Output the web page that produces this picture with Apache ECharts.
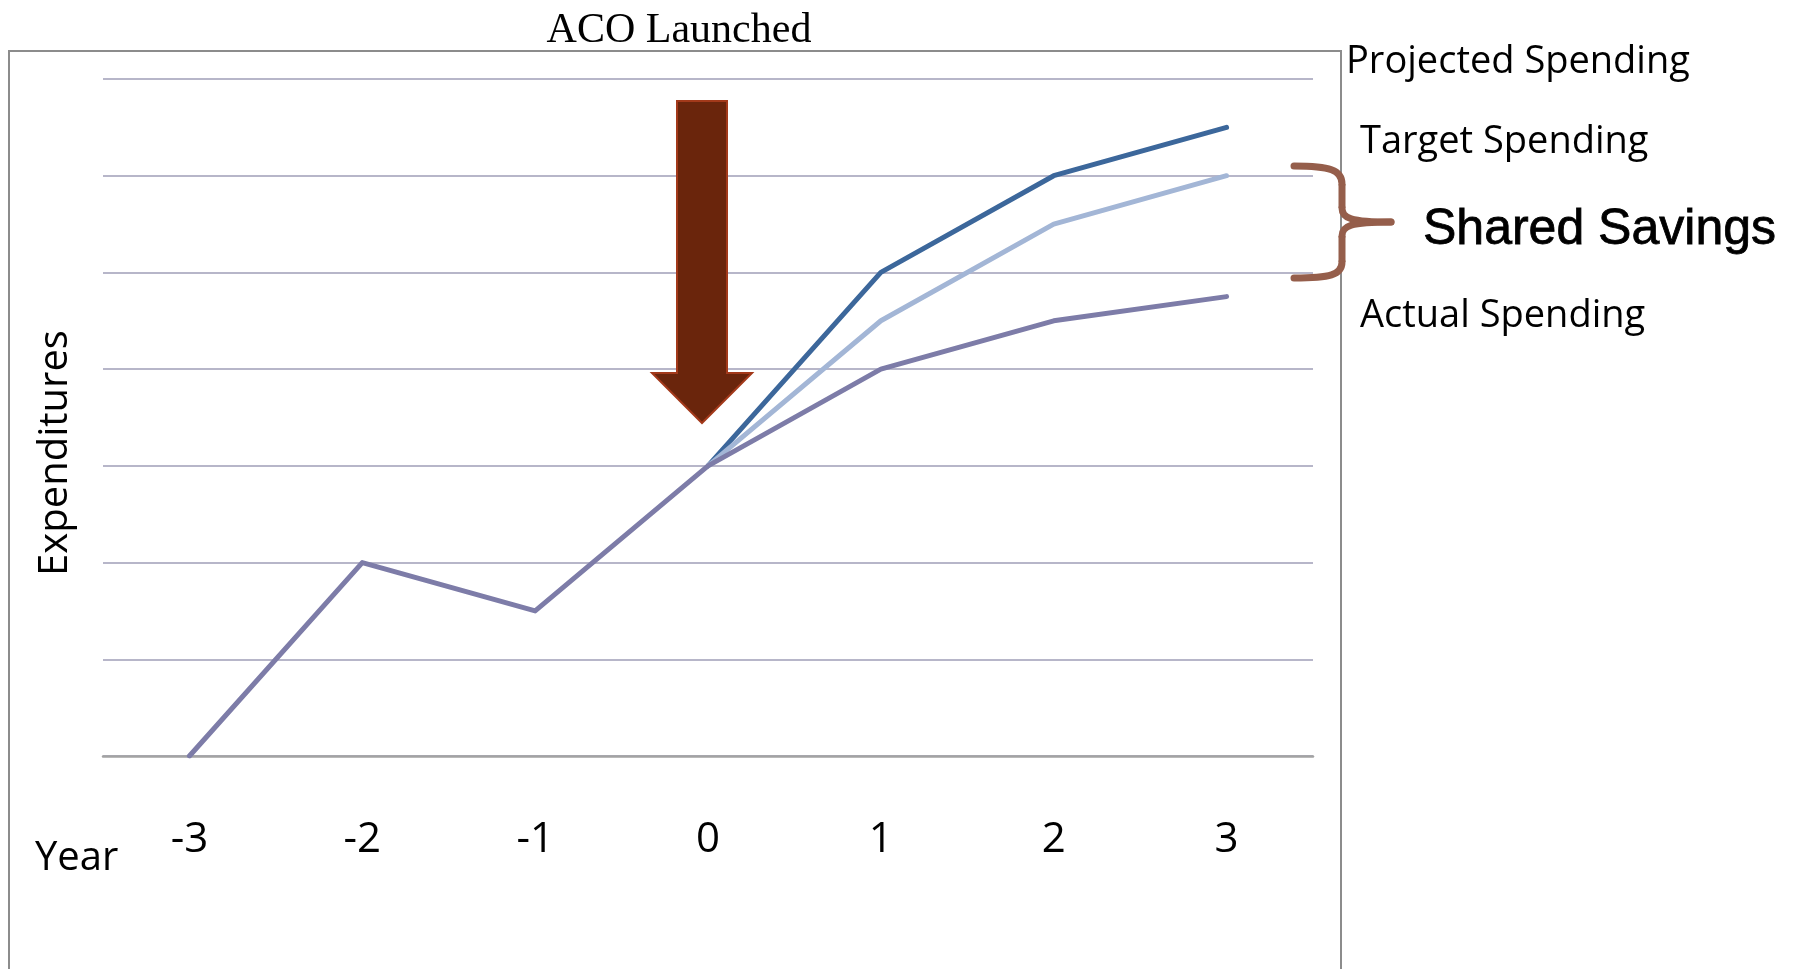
<!DOCTYPE html>
<html>
<head>
<meta charset="utf-8">
<title>ACO Launched</title>
<script src="https://cdn.jsdelivr.net/npm/echarts@6/dist/echarts.min.js"></script>
<style>
  html, body { margin: 0; padding: 0; background: #ffffff; }
  #chart { width: 1794px; height: 969px; }
</style>
</head>
<body>
<div id="chart"></div>
<script>
// Years relative to ACO launch
const years = ['-3', '-2', '-1', '0', '1', '2', '3'];

// Spending paths (relative expenditure units)
const projectedSpending = [null, null, null, 3, 5, 6, 6.5];
const targetSpending    = [null, null, null, 3, 4.5, 5.5, 6];
const actualSpending    = [0, 2, 1.5, 3, 4, 4.5, 4.75];

// Value axis range
const yMin = 0;
const yMax = 7;
const yStep = 1;

const chart = echarts.init(document.getElementById('chart'), null, { renderer: 'canvas' });

const sans = '"Open Sans", "Noto Sans", sans-serif';

function lineSeries(name, data, color) {
  return {
    name: name,
    type: 'line',
    data: data,
    symbol: 'none',
    connectNulls: false,
    lineStyle: { color: color, width: 5, cap: 'round', join: 'round' },
    itemStyle: { color: color },
    emphasis: { disabled: true },
    animation: false
  };
}

const braceColor = '#955E4B';
function braceCurve(x1, y1, cpx1, cpy1, cpx2, cpy2, x2, y2) {
  return {
    type: 'bezierCurve', z: 10,
    shape: { x1: x1, y1: y1, cpx1: cpx1, cpy1: cpy1, cpx2: cpx2, cpy2: cpy2, x2: x2, y2: y2 },
    style: { fill: null, stroke: braceColor, lineWidth: 7, lineCap: 'round' }
  };
}
function braceLine(x1, y1, x2, y2) {
  return {
    type: 'line', z: 10,
    shape: { x1: x1, y1: y1, x2: x2, y2: y2 },
    style: { stroke: braceColor, lineWidth: 7 }
  };
}

chart.setOption({
  backgroundColor: '#ffffff',
  animation: false,
  grid: { left: 103, right: 481, top: 79, bottom: 213, containLabel: false },
  xAxis: {
    type: 'category',
    data: years,
    boundaryGap: true,
    axisLine: { show: true, lineStyle: { color: '#A3A3A3', width: 2.5 } },
    axisTick: { show: false },
    axisLabel: {
      margin: 63,
      color: '#000000',
      fontFamily: sans,
      fontSize: 42
    },
    splitLine: { show: false }
  },
  yAxis: {
    type: 'value',
    min: yMin,
    max: yMax,
    interval: yStep,
    axisLine: { show: false },
    axisTick: { show: false },
    axisLabel: { show: false },
    splitLine: { show: true, lineStyle: { color: '#B7B6C9', width: 2 } }
  },
  series: [
    lineSeries('Projected Spending', projectedSpending, '#3C679B'),
    lineSeries('Target Spending', targetSpending, '#A3B6D6'),
    lineSeries('Actual Spending', actualSpending, '#7D7CA8')
  ],
  graphic: [
    // outer frame
    {
      type: 'rect', z: 0,
      shape: { x: 9, y: 51, width: 1332, height: 1000 },
      style: { fill: null, stroke: '#8C8C8C', lineWidth: 2 }
    },
    // title above the frame
    {
      type: 'text', z: 10, x: 679, y: 31,
      style: {
        text: 'ACO Launched', fill: '#000000',
        font: '42px "Liberation Serif", "DejaVu Serif", serif',
        align: 'center', verticalAlign: 'middle'
      }
    },
    // launch arrow
    {
      type: 'polygon', z: 10,
      shape: { points: [[677, 101], [727, 101], [727, 373], [752, 373], [702, 423], [652, 373], [677, 373]] },
      style: { fill: '#6A250C', stroke: '#A3391A', lineWidth: 2 }
    },
    // y-axis caption
    {
      type: 'text', z: 10, x: 56, y: 453, rotation: Math.PI / 2,
      style: {
        text: 'Expenditures', fill: '#000000',
        font: '40px ' + sans,
        align: 'center', verticalAlign: 'middle'
      }
    },
    // x-axis caption
    {
      type: 'text', z: 10, x: 35, y: 859,
      style: {
        text: 'Year', fill: '#000000',
        font: '40px ' + sans,
        align: 'left', verticalAlign: 'middle'
      }
    },
    // series captions on the right
    {
      type: 'text', z: 10, x: 1346, y: 62,
      style: { text: 'Projected Spending', fill: '#000000', font: '38px ' + sans, align: 'left', verticalAlign: 'middle' }
    },
    {
      type: 'text', z: 10, x: 1360, y: 142,
      style: { text: 'Target Spending', fill: '#000000', font: '38px ' + sans, align: 'left', verticalAlign: 'middle' }
    },
    {
      type: 'text', z: 10, x: 1360, y: 316,
      style: { text: 'Actual Spending', fill: '#000000', font: '38px ' + sans, align: 'left', verticalAlign: 'middle' }
    },
    // brace spanning the savings gap
    braceCurve(1294, 166, 1330, 166, 1342, 170, 1342, 184),
    braceLine(1342, 184, 1342, 208),
    braceCurve(1342, 208, 1342, 218, 1350, 222, 1391, 222),
    braceCurve(1391, 222, 1350, 222, 1342, 226, 1342, 236),
    braceLine(1342, 236, 1342, 262),
    braceCurve(1342, 262, 1342, 275, 1330, 278, 1294, 278),
    {
      type: 'text', z: 10, x: 1423, y: 230,
      style: {
        text: 'Shared Savings', fill: '#000000',
        font: '50px "Liberation Sans", Arial, sans-serif',
        stroke: '#000000', lineWidth: 0.8,
        align: 'left', verticalAlign: 'middle'
      }
    }
  ]
});
</script>
</body>
</html>
